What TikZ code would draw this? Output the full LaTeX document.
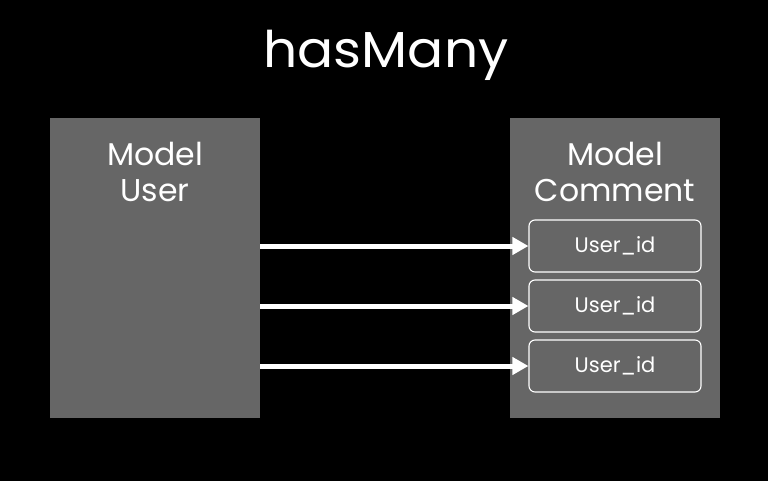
\documentclass[tikz,border=0pt]{standalone}
\usepackage{fontspec}
\setmainfont{Poppins}
\newfontfamily\titlefont[FakeStretch=1.06]{Poppins}
\usetikzlibrary{arrows.meta}
\definecolor{boxgray}{HTML}{666666}
\begin{document}
\begin{tikzpicture}[x=1pt,y=-1pt,
  model/.style={fill=boxgray, draw=none, minimum width=210pt, minimum height=300pt, anchor=north west, inner sep=0pt},
  modeltext/.style={text=white, font=\fontsize{31.5}{35}\selectfont, anchor=base, inner sep=0pt},
  field/.style={draw=white, line width=1.1pt, rounded corners=6pt, minimum width=172pt, minimum height=52pt, inner sep=0pt, text=white, font=\fontsize{21}{25}\selectfont},
  link/.style={draw=white, line width=5pt, -{Triangle[length=16pt, width=17pt]}, shorten >=0pt}]
\fill[black] (0,0) rectangle (768,481);
\useasboundingbox (0,0) rectangle (768,481);
\node[text=white, font=\titlefont\fontsize{50.5}{58}\selectfont, anchor=base, inner sep=0pt] (title) at (386,68) {hasMany};
\node[model] (user) at (50,118) {};
\node[model] (comment) at (510,118) {};
\node[modeltext] (ut1) at (155,166) {Model};
\node[modeltext] (ut2) at (155,201) {User};
\node[modeltext] (ct1) at (615,166) {Model};
\node[modeltext] (ct2) at (615,201) {Comment};
\node[field] (f1) at (615,246) {User\_id};
\node[field] (f2) at (615,306) {User\_id};
\node[field] (f3) at (615,366) {User\_id};
\draw[link] (user.east |- f1.west) -- (f1.west);
\draw[link] (user.east |- f2.west) -- (f2.west);
\draw[link] (user.east |- f3.west) -- (f3.west);
\end{tikzpicture}
\end{document}
